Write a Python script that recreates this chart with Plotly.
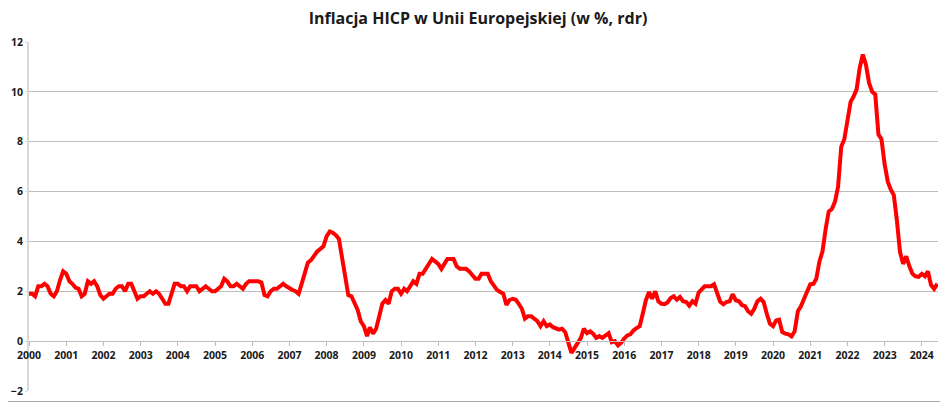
import pandas as pd
import plotly.graph_objects as go

# monthly HICP y/y readings, Jan 2000 onwards
start_month = "2000-01-01"
hicp_2000_2003 = [1.9, 1.9, 1.8, 2.2, 2.2, 2.3, 2.2, 1.9, 1.8, 2.0, 2.45, 2.8,
                  2.7, 2.4, 2.3, 2.15, 2.1, 1.8, 1.9, 2.4, 2.3, 2.4, 2.2, 1.85,
                  1.7, 1.8, 1.9, 1.9, 2.1, 2.2, 2.2, 2.0, 2.3, 2.3, 2.0, 1.7,
                  1.8, 1.8, 1.9, 2.0, 1.9, 2.0, 1.9, 1.7, 1.5, 1.5, 1.9, 2.3]
hicp_2004_2007 = [2.3, 2.2, 2.2, 2.0, 2.2, 2.2, 2.2, 2.0, 2.1, 2.2, 2.1, 2.0,
                  2.0, 2.1, 2.2, 2.5, 2.4, 2.2, 2.2, 2.3, 2.2, 2.1, 2.3, 2.4,
                  2.4, 2.4, 2.4, 2.35, 1.85, 1.8, 2.0, 2.1, 2.1, 2.2, 2.3, 2.2,
                  2.1, 2.05, 2.0, 1.9, 2.3, 2.8, 3.15, 3.25, 3.45, 3.6, 3.7, 3.8]
hicp_2008_2011 = [4.2, 4.4, 4.35, 4.25, 4.1, 3.4, 2.5, 1.85, 1.8, 1.5, 1.25, 0.8,
                  0.6, 0.2, 0.55, 0.3, 0.5, 1.0, 1.5, 1.65, 1.5, 2.0, 2.1, 2.1,
                  1.9, 2.1, 2.0, 2.2, 2.4, 2.3, 2.7, 2.7, 2.9, 3.1, 3.3, 3.2,
                  3.1, 2.9, 3.1, 3.3, 3.3, 3.3, 3.0, 2.9, 2.9, 2.9, 2.8, 2.65]
hicp_2012_2015 = [2.5, 2.5, 2.7, 2.7, 2.7, 2.4, 2.2, 2.05, 1.97, 1.9, 1.45, 1.65,
                  1.7, 1.66, 1.5, 1.3, 0.9, 1.0, 1.0, 0.9, 0.8, 0.6, 0.8, 0.6,
                  0.67, 0.56, 0.53, 0.46, 0.5, 0.36, -0.05, -0.47, -0.27, -0.08, 0.12, 0.5,
                  0.32, 0.39, 0.3, 0.13, 0.2, 0.13, 0.23, 0.32, -0.04, 0.0, -0.17, -0.07]
hicp_2016_2019 = [0.1, 0.23, 0.27, 0.43, 0.52, 0.6, 1.1, 1.64, 1.97, 1.7, 2.0, 1.6,
                  1.5, 1.48, 1.55, 1.73, 1.8, 1.66, 1.77, 1.6, 1.57, 1.42, 1.6, 1.5,
                  1.95, 2.1, 2.2, 2.2, 2.2, 2.28, 1.9, 1.58, 1.48, 1.57, 1.6, 1.88,
                  1.64, 1.6, 1.45, 1.4, 1.2, 1.1, 1.3, 1.6, 1.7, 1.57, 1.1, 0.7]
hicp_2020_2024 = [0.6, 0.83, 0.86, 0.36, 0.3, 0.27, 0.19, 0.4, 1.2, 1.4, 1.7, 2.0,
                  2.28, 2.3, 2.5, 3.2, 3.6, 4.5, 5.2, 5.3, 5.6, 6.2, 7.8, 8.1,
                  8.9, 9.6, 9.8, 10.1, 10.96, 11.5, 11.1, 10.36, 10.0, 9.9, 8.3, 8.1,
                  7.1, 6.4, 6.1, 5.86, 4.86, 3.58, 3.1, 3.4, 3.0, 2.7, 2.6, 2.58,
                  2.7, 2.6, 2.8, 2.25, 2.1, 2.3]

hicp = (hicp_2000_2003 + hicp_2004_2007 + hicp_2008_2011
        + hicp_2012_2015 + hicp_2016_2019 + hicp_2020_2024)
months = pd.date_range(start_month, periods=len(hicp), freq="MS")

title_text = "Inflacja HICP w Unii Europejskiej (w %, rdr)"
font_family = "Open Sans"
grid_grey = "#bdbdbd"
frame_grey = "#a6a6a6"
tick_font = dict(family=font_family, size=10.5, weight="bold", color="#1a1a1a")

fig = go.Figure(go.Scatter(
    x=months, y=hicp, mode="lines",
    line=dict(color="#ff0000", width=4),
    hoverinfo="x+y",
))

# the page puts the figure 8px in from the top-left corner, so the sizes
# below are the 948x403 window minus that offset
W, H = 940, 395
ml, mr, mt, mb = 21, 10, 34, 12
pw, ph = W - ml - mr, H - mt - mb

fig.update_layout(
    width=W, height=H,
    margin=dict(l=ml, r=mr, t=mt, b=mb, autoexpand=False),
    paper_bgcolor="white", plot_bgcolor="white",
    showlegend=False,
    title=dict(text=title_text, x=0.5, xanchor="center",
               y=1 - 10 / H, yanchor="middle", yref="container",
               font=dict(family=font_family, size=16, weight="bold", color="#1a1a1a")),
    font=dict(family=font_family, color="#1a1a1a"),
    xaxis=dict(
        type="date", automargin=False,
        range=["2000-01-01", "2024-06-08"],
        tick0="2000-01-01", dtick="M12", tickformat="%Y",
        anchor="free", position=1 / 7,
        showgrid=False, zeroline=False,
        showline=True, linecolor=grid_grey, linewidth=1,
        ticks="outside", ticklen=4, tickcolor=grid_grey,
        tickfont=tick_font,
    ),
    yaxis=dict(
        automargin=False,
        range=[-2, 12], dtick=2,
        showgrid=True, gridcolor=grid_grey, gridwidth=1,
        zeroline=False,
        showline=True, linecolor="#d9d9d9", linewidth=2,
        ticks="outside", ticklen=2, tickcolor="#d9d9d9",
        ticklabelstandoff=0,
        tickfont=tick_font,
    ),
)

# chart frame: right and bottom edges (left/top fall in the page offset)
x_right = (W - 1.5 - ml) / pw
y_bottom = -(mb - 1.5) / ph
fig.add_shape(type="line", xref="paper", yref="paper",
              x0=x_right, x1=x_right, y0=y_bottom, y1=1 + mt / ph,
              line=dict(color=frame_grey, width=1))
fig.add_shape(type="line", xref="paper", yref="paper",
              x0=-ml / pw, x1=x_right, y0=y_bottom, y1=y_bottom,
              line=dict(color=frame_grey, width=1))

fig.write_html("out.html")
